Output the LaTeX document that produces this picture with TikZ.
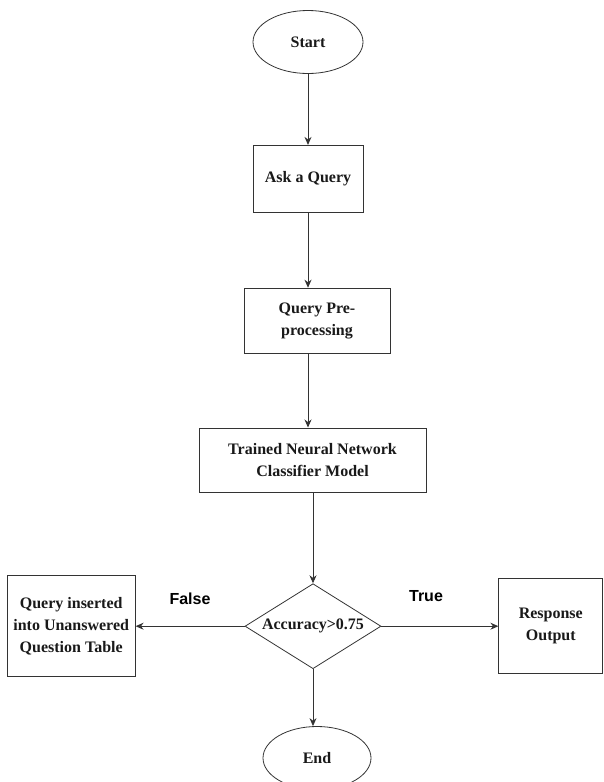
\documentclass[tikz,border=0pt]{standalone}
\usepackage{fontspec}
\setmainfont{Liberation Serif}
\newfontfamily\labelfont{Liberation Sans}
\usepackage{tikz}
\usetikzlibrary{positioning,arrows.meta,shapes.geometric}

\begin{document}
\begin{tikzpicture}[x=1pt, y=-1pt,
    every node/.style={font=\fontsize{16}{22}\selectfont\bfseries, text=black!90},
    terminal/.style={draw=black!80, thick, ellipse, minimum width=110pt, minimum height=63pt, inner sep=0pt},
    process/.style={draw=black!80, thick, rectangle, align=center, inner sep=0pt},
    decision/.style={draw=black!80, thick, diamond, aspect=1.6, minimum width=136pt, minimum height=85pt, inner sep=0pt},
    flow/.style={->, >={Stealth[length=8pt,width=7pt]}, draw=black!80, line width=0.9pt},
    branch/.style={font=\labelfont\fontsize{16}{18}\selectfont\bfseries, text=black}]

    \useasboundingbox (0,0) rectangle (603,782);

    % main column
    \node[terminal] (start) at (308,42) {Start};
    \node[process, minimum width=110pt, minimum height=67pt] (ask) [below=71pt of start] {Ask a Query};
    \node[process, minimum width=146pt, minimum height=65pt] (pre) [below=75pt of ask, xshift=9pt] {Query Pre-\\processing};
    \node[process, minimum width=227pt, minimum height=64pt] (trained) [below=74pt of pre, xshift=-4.5pt] {Trained Neural Network\\Classifier Model};
    \node[decision] (acc) [below=91pt of trained, xshift=0.5pt] {Accuracy>0.75};
    \node[terminal, minimum width=108pt] (end) [below=57pt of acc, xshift=4pt] {End};

    % branches
    \node[process, minimum width=128pt, minimum height=101pt] (unans) [left=109pt of acc] {Query inserted\\into Unanswered\\Question Table};
    \node[process, minimum width=104pt, minimum height=95pt] (resp) [right=117pt of acc] {Response\\Output};

    \node[branch] (lblfalse) at (190,599) {False};
    \node[branch] (lbltrue) at (426,596) {True};

    % arrows
    \draw[flow] (start) -- (ask);
    \draw[flow] (ask.south) -- (ask.south |- pre.north);
    \draw[flow] (ask.south |- pre.south) -- (ask.south |- trained.north);
    \draw[flow] (acc.north |- trained.south) -- (acc.north);
    \draw[flow] (acc) -- (unans);
    \draw[flow] (acc) -- (resp);
    \draw[flow] (acc.south) -- (acc.south |- end.north);

\end{tikzpicture}
\end{document}
